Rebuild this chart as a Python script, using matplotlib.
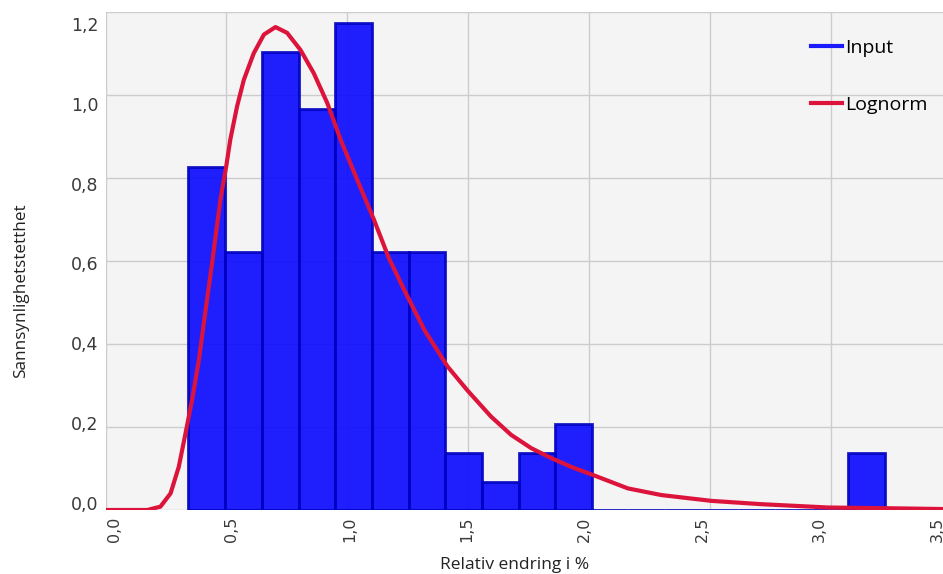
import numpy as np
import matplotlib
matplotlib.use('Agg')
import matplotlib.pyplot as plt
from matplotlib.lines import Line2D
from matplotlib.transforms import ScaledTranslation

# histogram (density)
bin_edges = [0.343, 0.495, 0.647, 0.798, 0.950, 1.101, 1.253, 1.404, 1.556, 1.708,
             1.859, 2.011, 2.162, 2.314, 2.465, 2.617, 2.769, 2.920, 3.072, 3.223]
density = [0.826, 0.622, 1.104, 0.966, 1.173, 0.622, 0.622, 0.138, 0.067, 0.138,
           0.206, 0, 0, 0, 0, 0, 0, 0, 0.138]

# lognormal fit curve
curve_x = [0.0, 0.15, 0.172, 0.227, 0.269, 0.303, 0.331, 0.358, 0.386, 0.414, 0.441,
           0.475, 0.499, 0.516, 0.544, 0.572, 0.613, 0.655, 0.703, 0.751, 0.806,
           0.861, 0.917, 0.972, 1.041, 1.110, 1.172, 1.235, 1.318, 1.415, 1.498,
           1.594, 1.677, 1.760, 1.843, 1.925, 2.008, 2.160, 2.298, 2.505, 2.712,
           2.988, 3.264, 3.5]
curve_y = [0.0, 0.0, 0.0, 0.008, 0.040, 0.104, 0.185, 0.265, 0.361, 0.482, 0.596,
           0.747, 0.827, 0.892, 0.972, 1.036, 1.100, 1.145, 1.163, 1.149, 1.108,
           1.052, 0.980, 0.892, 0.795, 0.699, 0.606, 0.530, 0.434, 0.345, 0.287,
           0.225, 0.181, 0.149, 0.125, 0.104, 0.086, 0.052, 0.036, 0.022, 0.014,
           0.006, 0.004, 0.002]

xticks = [0, 0.5, 1.0, 1.5, 2.0, 2.5, 3.0, 3.5]
xticklabels = ['0,0', '0,5', '1,0', '1,5', '2,0', '2,5', '3,0', '3,5']
yticks = [0, 0.2, 0.4, 0.6, 0.8, 1.0, 1.2]
yticklabels = ['0,0', '0,2', '0,4', '0,6', '0,8', '1,0', '1,2']

fig = plt.figure(figsize=(9.43, 5.74), dpi=100)
W, H = 943, 574
# plot area runs a little past the right edge of the picture
ax = fig.add_axes([105.5/W, (H-510)/H, (952-105.5)/W, (510-11.7)/H])
ax.set_facecolor('#f4f4f4')

edges = np.array(bin_edges)
ax.bar(edges[:-1], density, width=np.diff(edges), align='edge',
       color='#0808ff', edgecolor='#0000c0', linewidth=2, alpha=0.9, zorder=2)
ax.plot(curve_x, curve_y, color='#dc143c', linewidth=3, zorder=3,
        solid_joinstyle='round', solid_capstyle='round')

ax.set_xlim(0, 3.5)
ax.set_ylim(0, 1.2)
ax.tick_params(length=0, pad=5)
ax.set_xticks(xticks)
ax.set_xticklabels(xticklabels, rotation=90, fontsize=11.5, color='#3a3a3a')
ax.set_yticks(yticks)
ax.set_yticklabels(yticklabels, fontsize=12.5, color='#3a3a3a')
ax.grid(True, color='#cccccc', linewidth=1)
ax.set_axisbelow(True)
for s in ax.spines.values():
    s.set_visible(False)

# tick labels in the original drift slightly off their gridlines
for k, lab in enumerate(ax.get_xticklabels()):
    lab.set_transform(lab.get_transform() +
                      ScaledTranslation((8.5 - 3.3*k)/100, 0, fig.dpi_scale_trans))
for k, lab in enumerate(ax.get_yticklabels()):
    lab.set_transform(lab.get_transform() +
                      ScaledTranslation(0, (7 - 3.2*k)/100, fig.dpi_scale_trans))

ax.set_xlabel('Relativ endring i %', family='Open Sans', fontsize=12.5, color='#222222')
ax.xaxis.set_label_coords((515-105.5)/846.5, -(557-510)/498.3)
ax.set_ylabel('Sannsynlighetstetthet', family='Open Sans', fontsize=12.3, color='#222222')
ax.yaxis.set_label_coords((29-105.5)/846.5, (510-291)/498.3)

handles = [Line2D([], [], color='#1a1aff', linewidth=3),
           Line2D([], [], color='#dc143c', linewidth=3)]
fig.legend(handles, ['Input', 'Lognorm'], loc='upper left',
           bbox_to_anchor=(811/W, 1-39/H), frameon=False, borderpad=0,
           borderaxespad=0, handlelength=1.6, handletextpad=0.15,
           labelspacing=2.0, prop={'family': 'Open Sans', 'size': 14})

fig.savefig('out.png', dpi=100)
